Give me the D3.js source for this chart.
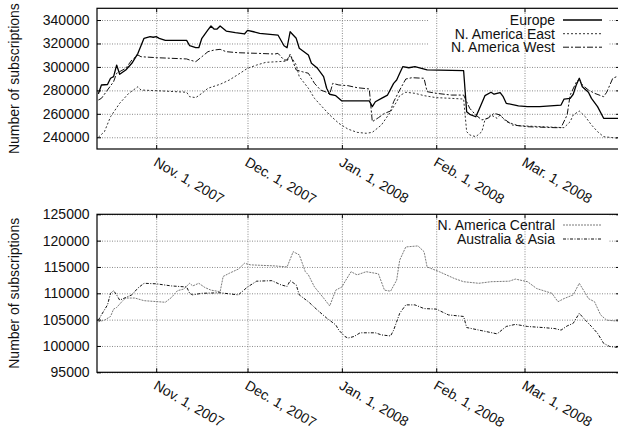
<!DOCTYPE html>
<html>
<head>
<meta charset="utf-8">
<script src="https://cdn.jsdelivr.net/npm/d3@7"></script>
<style>
  body { margin: 0; background: #fff; }
  svg { display: block; }
  text { font-family: "Liberation Sans", Arial, Helvetica, sans-serif; fill: #111; }
</style>
</head>
<body>
<div id="chart"></div>
<script>
// #### data (daily subscription counts per region)
const xTickDates = ["2007-11-01", "2007-12-01", "2008-01-01", "2008-02-01", "2008-03-01"];
const xTickLabels = ["Nov. 1, 2007", "Dec. 1, 2007", "Jan. 1, 2008", "Feb. 1, 2008", "Mar. 1, 2008"];

const topTicks = [240000, 260000, 280000, 300000, 320000, 340000];
const bottomTicks = [95000, 100000, 105000, 110000, 115000, 120000, 125000];

const europe = [
  ["2007-10-13", 277000], ["2007-10-14", 284600], ["2007-10-16", 285000], ["2007-10-17", 290300],
  ["2007-10-18", 291700], ["2007-10-19", 301600], ["2007-10-20", 293700], ["2007-10-22", 297400],
  ["2007-10-24", 303100], ["2007-10-26", 311600], ["2007-10-28", 324400], ["2007-10-30", 325800],
  ["2007-10-31", 325300], ["2007-11-01", 325800], ["2007-11-02", 324400], ["2007-11-04", 322700],
  ["2007-11-11", 322700], ["2007-11-12", 318100], ["2007-11-14", 316400], ["2007-11-15", 316400],
  ["2007-11-16", 324400], ["2007-11-18", 331500], ["2007-11-19", 334900], ["2007-11-20", 332300],
  ["2007-11-21", 332300], ["2007-11-22", 334900], ["2007-11-24", 330600], ["2007-11-27", 329200],
  ["2007-11-30", 328100], ["2007-12-01", 331200], ["2007-12-03", 330000], ["2007-12-05", 328700],
  ["2007-12-11", 327200], ["2007-12-13", 318100], ["2007-12-14", 316400], ["2007-12-15", 330000],
  ["2007-12-17", 324400], ["2007-12-18", 315900], ["2007-12-21", 310200], ["2007-12-22", 303100],
  ["2007-12-24", 298800], ["2007-12-26", 291700], ["2007-12-27", 281800], ["2007-12-28", 276700],
  ["2007-12-30", 275500], ["2008-01-01", 271000], ["2008-01-10", 271000], ["2008-01-11", 266100],
  ["2008-01-12", 270300], ["2008-01-14", 273200], ["2008-01-16", 276000], ["2008-01-18", 286000],
  ["2008-01-19", 288800], ["2008-01-20", 294600], ["2008-01-21", 300200], ["2008-01-23", 299300],
  ["2008-01-25", 300200], ["2008-01-29", 297400], ["2008-02-10", 296800], ["2008-02-11", 261800],
  ["2008-02-12", 259600], ["2008-02-14", 257500], ["2008-02-15", 263300], ["2008-02-17", 275500],
  ["2008-02-19", 278400], ["2008-02-20", 276700], ["2008-02-22", 278000], ["2008-02-23", 274600],
  ["2008-02-24", 269000], ["2008-02-28", 266700], ["2008-03-02", 266100], ["2008-03-06", 266100],
  ["2008-03-13", 267500], ["2008-03-14", 272600], ["2008-03-16", 273200], ["2008-03-17", 276700],
  ["2008-03-18", 284600], ["2008-03-19", 290300], ["2008-03-20", 283100], ["2008-03-22", 278400],
  ["2008-03-23", 273200], ["2008-03-25", 266100], ["2008-03-27", 256200], ["2008-04-01", 256200]
];

const naEast = [
  ["2007-10-13", 240000], ["2007-10-15", 244800], ["2007-10-17", 257500], ["2007-10-20", 269000],
  ["2007-10-23", 277500], ["2007-10-26", 283100], ["2007-10-27", 280300], ["2007-11-03", 279500],
  ["2007-11-11", 278400], ["2007-11-12", 274600], ["2007-11-14", 273800], ["2007-11-16", 277500],
  ["2007-11-18", 281800], ["2007-11-22", 285200], ["2007-11-25", 288800], ["2007-11-28", 293700],
  ["2007-12-01", 298800], ["2007-12-04", 301600], ["2007-12-07", 303900], ["2007-12-11", 304500],
  ["2007-12-14", 305000], ["2007-12-15", 310200], ["2007-12-17", 301600], ["2007-12-18", 291700],
  ["2007-12-21", 281800], ["2007-12-23", 273200], ["2007-12-25", 267500], ["2007-12-28", 259000],
  ["2007-12-31", 251900], ["2008-01-03", 247000], ["2008-01-06", 244200], ["2008-01-09", 243400],
  ["2008-01-11", 244200], ["2008-01-14", 250500], ["2008-01-17", 261800], ["2008-01-19", 270300],
  ["2008-01-20", 275500], ["2008-01-22", 278400], ["2008-01-25", 277500], ["2008-01-28", 275500],
  ["2008-02-01", 273800], ["2008-02-06", 273200], ["2008-02-10", 272600], ["2008-02-11", 244800],
  ["2008-02-12", 242000], ["2008-02-14", 240500], ["2008-02-16", 244800], ["2008-02-17", 254800],
  ["2008-02-19", 259000], ["2008-02-21", 256200], ["2008-02-22", 259000], ["2008-02-24", 253300],
  ["2008-02-28", 249900], ["2008-03-07", 249000], ["2008-03-14", 248200], ["2008-03-16", 253300],
  ["2008-03-17", 259000], ["2008-03-19", 262400], ["2008-03-21", 257500], ["2008-03-23", 250500],
  ["2008-03-25", 244800], ["2008-03-27", 240500], ["2008-04-01", 239100]
];

const naWest = [
  ["2007-10-13", 271800], ["2007-10-14", 273200], ["2007-10-16", 280300], ["2007-10-18", 287400],
  ["2007-10-19", 294600], ["2007-10-22", 298800], ["2007-10-24", 305900], ["2007-10-26", 310200],
  ["2007-10-27", 308700], ["2007-11-01", 307900], ["2007-11-11", 306800], ["2007-11-12", 305900],
  ["2007-11-14", 304500], ["2007-11-16", 308700], ["2007-11-18", 313000], ["2007-11-20", 314400],
  ["2007-11-22", 315000], ["2007-11-24", 313000], ["2007-11-28", 312100], ["2007-12-04", 311600],
  ["2007-12-10", 311000], ["2007-12-11", 311600], ["2007-12-13", 305900], ["2007-12-14", 305900],
  ["2007-12-15", 310800], ["2007-12-17", 297400], ["2007-12-19", 295900], ["2007-12-21", 294600],
  ["2007-12-23", 286000], ["2007-12-25", 280300], ["2007-12-27", 278400], ["2007-12-28", 276700],
  ["2007-12-29", 286000], ["2007-12-31", 284600], ["2008-01-03", 284000], ["2008-01-06", 282300],
  ["2008-01-10", 281200], ["2008-01-11", 253300], ["2008-01-13", 256700], ["2008-01-15", 260400],
  ["2008-01-17", 262400], ["2008-01-18", 270300], ["2008-01-20", 280300], ["2008-01-22", 289700],
  ["2008-01-24", 290800], ["2008-01-28", 290300], ["2008-01-29", 278900], ["2008-02-01", 277500],
  ["2008-02-06", 276000], ["2008-02-10", 276000], ["2008-02-11", 270300], ["2008-02-12", 264700],
  ["2008-02-14", 259000], ["2008-02-16", 254800], ["2008-02-18", 256200], ["2008-02-20", 260400],
  ["2008-02-22", 259000], ["2008-02-23", 256200], ["2008-02-26", 250500], ["2008-03-02", 249000],
  ["2008-03-11", 248200], ["2008-03-13", 248200], ["2008-03-15", 259000], ["2008-03-16", 276000],
  ["2008-03-18", 286900], ["2008-03-19", 289700], ["2008-03-20", 284600], ["2008-03-22", 280300],
  ["2008-03-24", 277500], ["2008-03-27", 274600], ["2008-03-28", 278400], ["2008-03-30", 290300],
  ["2008-04-01", 292500]
];

const naCentral = [
  ["2007-10-13", 104600], ["2007-10-15", 104900], ["2007-10-17", 105600], ["2007-10-18", 107000],
  ["2007-10-19", 107300], ["2007-10-21", 108600], ["2007-10-22", 109100], ["2007-10-25", 109100],
  ["2007-10-28", 108600], ["2007-11-04", 108300], ["2007-11-06", 109200], ["2007-11-08", 110500],
  ["2007-11-10", 110800], ["2007-11-12", 111900], ["2007-11-13", 111400], ["2007-11-15", 111900],
  ["2007-11-17", 111100], ["2007-11-19", 110600], ["2007-11-22", 110300], ["2007-11-23", 113200],
  ["2007-11-25", 113800], ["2007-11-28", 114600], ["2007-11-30", 115700], ["2007-12-02", 115400],
  ["2007-12-10", 115200], ["2007-12-14", 115000], ["2007-12-16", 117900], ["2007-12-18", 117300],
  ["2007-12-20", 114100], ["2007-12-21", 113500], ["2007-12-23", 111200], ["2007-12-26", 109100],
  ["2007-12-28", 107600], ["2007-12-30", 110600], ["2008-01-01", 111200], ["2008-01-02", 112200],
  ["2008-01-04", 114100], ["2008-01-06", 113500], ["2008-01-09", 114100], ["2008-01-13", 113700],
  ["2008-01-15", 110600], ["2008-01-17", 110400], ["2008-01-19", 112500], ["2008-01-20", 116300],
  ["2008-01-22", 118800], ["2008-01-26", 119000], ["2008-01-28", 117900], ["2008-01-29", 115000],
  ["2008-02-02", 114100], ["2008-02-07", 112800], ["2008-02-10", 112200], ["2008-02-15", 111900],
  ["2008-02-19", 112200], ["2008-02-25", 112300], ["2008-02-27", 112700], ["2008-03-02", 112200],
  ["2008-03-05", 110900], ["2008-03-10", 110000], ["2008-03-12", 108400], ["2008-03-14", 109000],
  ["2008-03-17", 109700], ["2008-03-19", 111900], ["2008-03-21", 110000], ["2008-03-22", 109000],
  ["2008-03-24", 108400], ["2008-03-26", 105900], ["2008-03-28", 104900], ["2008-04-01", 104700]
];

const ausAsia = [
  ["2007-10-13", 104900], ["2007-10-14", 105900], ["2007-10-16", 107800], ["2007-10-17", 110000],
  ["2007-10-18", 110500], ["2007-10-19", 109700], ["2007-10-20", 108700], ["2007-10-22", 109200],
  ["2007-10-24", 109700], ["2007-10-26", 111000], ["2007-10-28", 111900], ["2007-11-01", 111800],
  ["2007-11-06", 111400], ["2007-11-11", 111200], ["2007-11-12", 110000], ["2007-11-13", 109700],
  ["2007-11-16", 110000], ["2007-11-22", 110100], ["2007-11-28", 109700], ["2007-12-01", 111200],
  ["2007-12-04", 112300], ["2007-12-09", 112400], ["2007-12-12", 111600], ["2007-12-14", 111300],
  ["2007-12-15", 112400], ["2007-12-17", 111600], ["2007-12-18", 109700], ["2007-12-21", 108400],
  ["2007-12-24", 106800], ["2007-12-27", 105300], ["2007-12-30", 104000], ["2007-12-31", 103000],
  ["2008-01-02", 101800], ["2008-01-03", 101500], ["2008-01-05", 101800], ["2008-01-07", 102500],
  ["2008-01-12", 102500], ["2008-01-14", 102100], ["2008-01-17", 101900], ["2008-01-18", 103000],
  ["2008-01-20", 106200], ["2008-01-22", 107800], ["2008-01-25", 107800], ["2008-01-28", 107100],
  ["2008-02-01", 107000], ["2008-02-05", 105900], ["2008-02-10", 105600], ["2008-02-11", 103500],
  ["2008-02-16", 102900], ["2008-02-21", 102300], ["2008-02-24", 103700], ["2008-02-27", 104100],
  ["2008-03-02", 103700], ["2008-03-07", 103500], ["2008-03-11", 103300], ["2008-03-13", 103000],
  ["2008-03-15", 103800], ["2008-03-17", 104300], ["2008-03-19", 106200], ["2008-03-21", 104900],
  ["2008-03-23", 103700], ["2008-03-25", 102400], ["2008-03-27", 100500], ["2008-03-29", 99900],
  ["2008-04-01", 99700]
];

// #### layout (the original is cropped on the right, so the frame runs past the window)
const width = 618, height = 428;
const plotLeft = 97, plotRight = 620;
const fontFamily = '"Liberation Sans", Arial, Helvetica, sans-serif';
const parseDay = d3.utcParse("%Y-%m-%d");

const svg = d3.select("#chart").append("svg")
  .attr("width", width)
  .attr("height", height);

// Shared time axis, anchored on the Nov. 1 and Mar. 1 gridlines.
const x = d3.scaleUtc()
  .domain([parseDay("2007-11-01"), parseDay("2008-03-01")])
  .range([156.2, 524.5]);
const xTicks = xTickDates.map(parseDay);

const styleGrid = sel => {
  sel.select(".domain").remove();
  sel.selectAll(".tick line")
    .attr("stroke", "#8a8a8a")
    .attr("stroke-width", 1)
    .attr("stroke-dasharray", "1,1.5");
};

const drawPanel = (cfg, idx) => {
  const { top, bottom, yDomain, yTicks, series, legendBox, legendY } = cfg;
  const y = d3.scaleLinear().domain(yDomain).range([bottom, top]);
  const g = svg.append("g");

  // horizontal grid, interrupted by the opaque key box
  g.append("g")
    .attr("transform", `translate(${plotLeft},0)`)
    .call(d3.axisLeft(y).tickValues(yTicks).tickSize(-(plotRight - plotLeft)).tickFormat(""))
    .call(styleGrid);

  g.append("rect")
    .attr("x", legendBox[0]).attr("y", legendBox[1])
    .attr("width", legendBox[2] - legendBox[0]).attr("height", legendBox[3] - legendBox[1])
    .attr("fill", "#fff");

  // vertical grid
  g.append("g")
    .attr("transform", `translate(0,${bottom})`)
    .call(d3.axisBottom(x).tickValues(xTicks).tickSize(-(bottom - top)).tickFormat(""))
    .call(styleGrid);

  // data lines
  const clipId = "clip" + idx;
  svg.append("clipPath").attr("id", clipId)
    .append("rect")
    .attr("x", plotLeft).attr("y", top)
    .attr("width", plotRight - plotLeft).attr("height", bottom - top);

  const line = d3.line()
    .x(d => x(parseDay(d[0])))
    .y(d => y(d[1]));

  g.append("g")
    .attr("clip-path", `url(#${clipId})`)
    .selectAll("path")
    .data(series)
    .enter().append("path")
      .attr("d", s => line(s.data))
      .attr("fill", "none")
      .attr("stroke", s => s.stroke)
      .attr("stroke-width", s => s.width)
      .attr("stroke-dasharray", s => s.dash)
      .attr("stroke-linejoin", "round");

  // frame
  g.append("rect")
    .attr("x", plotLeft).attr("y", top)
    .attr("width", plotRight - plotLeft).attr("height", bottom - top)
    .attr("fill", "none")
    .attr("stroke", "#000")
    .attr("stroke-width", 1.2);

  // inward tick marks on all sides
  const tickLen = 4;
  g.append("g").attr("transform", `translate(${plotLeft},0)`)
    .call(d3.axisLeft(y).tickValues(yTicks).tickSize(-tickLen).tickFormat(""))
    .call(a => a.select(".domain").remove());
  g.append("g").attr("transform", `translate(${plotRight},0)`)
    .call(d3.axisRight(y).tickValues(yTicks).tickSize(-tickLen).tickFormat(""))
    .call(a => a.select(".domain").remove());
  g.append("g").attr("transform", `translate(0,${bottom})`)
    .call(d3.axisBottom(x).tickValues(xTicks).tickSize(-tickLen).tickFormat(""))
    .call(a => a.select(".domain").remove());
  g.append("g").attr("transform", `translate(0,${top})`)
    .call(d3.axisTop(x).tickValues(xTicks).tickSize(-tickLen).tickFormat(""))
    .call(a => a.select(".domain").remove());

  // y tick labels
  g.append("g")
    .attr("transform", `translate(${plotLeft},0)`)
    .call(d3.axisLeft(y).tickValues(yTicks).tickSize(0).tickPadding(7.5).tickFormat(d3.format("d")))
    .call(a => a.select(".domain").remove())
    .selectAll("text")
    .attr("font-size", 14)
    .attr("font-family", fontFamily)
    .attr("fill", "#111");

  // x tick labels, rotated like the original
  g.append("g")
    .attr("transform", `translate(0,${bottom})`)
    .call(d3.axisBottom(x).tickValues(xTicks).tickSize(0).tickFormat((d, i) => xTickLabels[i]))
    .call(a => a.select(".domain").remove())
    .selectAll("text")
    .attr("x", 0).attr("y", 0).attr("dy", 0)
    .attr("transform", "translate(-4,16) rotate(30)")
    .style("text-anchor", "start")
    .attr("font-size", 14)
    .attr("font-family", fontFamily)
    .attr("fill", "#111");

  // y title
  g.append("text")
    .attr("transform", `translate(18.5,${(top + bottom) / 2}) rotate(-90)`)
    .attr("text-anchor", "middle")
    .attr("font-size", 14)
    .text("Number of subscriptions");

  // key
  const key = g.append("g").selectAll("g")
    .data(series)
    .enter().append("g")
    .attr("transform", (d, i) => `translate(0,${legendY[i]})`);
  key.append("text")
    .attr("x", 555)
    .attr("y", 5)
    .attr("text-anchor", "end")
    .attr("font-size", 14)
    .text(d => d.name);
  key.append("line")
    .attr("x1", 563).attr("x2", 602)
    .attr("stroke", d => d.stroke)
    .attr("stroke-width", d => d.width)
    .attr("stroke-dasharray", d => d.dash);
};

const topPanel = {
  top: 8.3, bottom: 149,
  yDomain: [230000, 350000],
  yTicks: topTicks,
  series: [
    { name: "Europe", data: europe, stroke: "#000", width: 1.3, dash: null },
    { name: "N. America East", data: naEast, stroke: "#333", width: 1, dash: "2,2" },
    { name: "N. America West", data: naWest, stroke: "#111", width: 1, dash: "6,2,2,2" },
  ],
  legendBox: [428, 9, 609, 56],
  legendY: [20, 33.7, 47.2],
};

const bottomPanel = {
  top: 214.3, bottom: 372.3,
  yDomain: [95000, 125000],
  yTicks: bottomTicks,
  series: [
    { name: "N. America Central", data: naCentral, stroke: "#7a7a7a", width: 1, dash: "2,1" },
    { name: "Australia & Asia", data: ausAsia, stroke: "#111", width: 1, dash: "3,1.5,1,1.5" },
  ],
  legendBox: [403, 215, 609, 247],
  legendY: [225, 239],
};

drawPanel(topPanel, 0);
drawPanel(bottomPanel, 1);
</script>
</body>
</html>
